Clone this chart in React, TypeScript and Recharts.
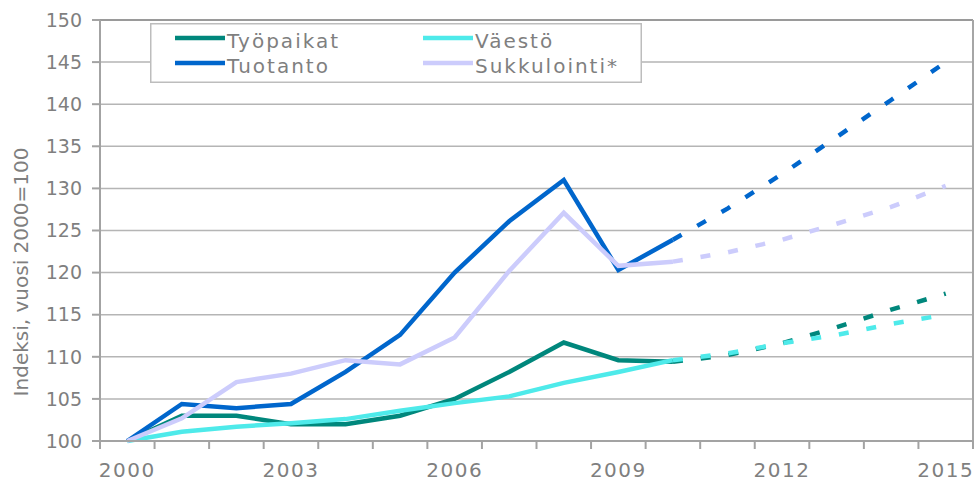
import React from "react";
import {
  CartesianGrid,
  Legend,
  Line,
  LineChart,
  ReferenceLine,
  XAxis,
  YAxis,
} from "recharts";

const years = [
  2000, 2001, 2002, 2003, 2004, 2005, 2006, 2007, 2008, 2009, 2010, 2011, 2012,
  2013, 2014, 2015,
];
const labelYears = [2000, 2003, 2006, 2009, 2012, 2015];
const yTicks = [100, 105, 110, 115, 120, 125, 130, 135, 140, 145, 150];

// toteutunut 2000–2010, ennuste (katkoviiva) 2010–2015
const tyopaikat = [100, 103, 103, 102, 102, 103, 105, 108.2, 111.7, 109.6, 109.4, null, null, null, null, null];
const tyopaikatEnnuste = [null, null, null, null, null, null, null, null, null, null, 109.4, 110.2, 111.6, 113.5, 115.6, 117.5];
const vaesto = [100, 101.1, 101.7, 102.1, 102.6, 103.6, 104.5, 105.3, 106.9, 108.2, 109.6, null, null, null, null, null];
const vaestoEnnuste = [null, null, null, null, null, null, null, null, null, null, 109.6, 110.4, 111.6, 112.6, 113.9, 115.0];
const tuotanto = [100, 104.4, 103.9, 104.4, 108.2, 112.6, 120.0, 126.1, 131.0, 120.3, 123.9, null, null, null, null, null];
const tuotantoEnnuste = [null, null, null, null, null, null, null, null, null, null, 123.9, 127.6, 131.7, 136.1, 140.5, 145.0];
const sukkulointi = [100, 102.7, 107.0, 108.0, 109.6, 109.1, 112.3, 120.2, 127.1, 120.8, 121.3, null, null, null, null, null];
const sukkulointiEnnuste = [null, null, null, null, null, null, null, null, null, null, 121.3, 122.4, 123.9, 125.8, 127.8, 130.3];

const rows = years.map((year, i) => ({
  year,
  tyopaikat: tyopaikat[i],
  tyopaikatE: tyopaikatEnnuste[i],
  vaesto: vaesto[i],
  vaestoE: vaestoEnnuste[i],
  tuotanto: tuotanto[i],
  tuotantoE: tuotantoEnnuste[i],
  sukkulointi: sukkulointi[i],
  sukkulointiE: sukkulointiEnnuste[i],
}));

const series = [
  { key: "tyopaikat", name: "Työpaikat", color: "#00877c" },
  { key: "vaesto", name: "Väestö", color: "#4eeaea" },
  { key: "tuotanto", name: "Tuotanto", color: "#0066cc" },
  { key: "sukkulointi", name: "Sukkulointi*", color: "#ccccfc" },
];

const FONT = "DejaVu Sans";
const TEXT = "#7f7f7f";
const AXIS = "#a3a3a3";
const LINE_W = 4.5;

const first = years[0] - 0.5;
const last = years[years.length - 1] + 0.5;
const xTicks = [...years.map((y) => y - 0.5), last, ...labelYears];

function XTick(props: any) {
  const { x, y, payload } = props;
  const v = payload.value;
  if (Number.isInteger(v)) {
    return (
      <text
        x={x}
        y={y}
        dy={36}
        textAnchor="middle"
        fontSize={20}
        letterSpacing={1.5}
        fontFamily={FONT}
        fill={TEXT}
      >
        {v}
      </text>
    );
  }
  return <line x1={x} x2={x} y1={y} y2={y + 8} stroke={AXIS} strokeWidth={2} />;
}

function YLabel() {
  return (
    <text
      x={28}
      y={272}
      transform="rotate(-90 28 272)"
      textAnchor="middle"
      fontSize={20}
      fontFamily={FONT}
      fill={TEXT}
    >
      Indeksi, vuosi 2000=100
    </text>
  );
}

function LegendBox(props: any) {
  const order = series.map((s) => s.name);
  const items = (props.payload || [])
    .filter((p: any) => p.type !== "none" && order.includes(p.value))
    .sort((a: any, b: any) => order.indexOf(a.value) - order.indexOf(b.value));
  return (
    <svg width={492} height={60} style={{ display: "block" }}>
      <rect x={0.75} y={0.75} width={490.5} height={58.5} fill="#fff" stroke="#bdbdbd" strokeWidth={1.5} />
      {items.map((p: any, i: number) => {
        const cx = 25 + (i % 2) * 248;
        const cy = 15 + Math.floor(i / 2) * 25;
        return (
          <g key={p.value}>
            <line x1={cx} x2={cx + 50} y1={cy} y2={cy} stroke={p.color} strokeWidth={LINE_W} />
            <text
              x={cx + 52}
              y={cy + 10}
              fontSize={20}
              letterSpacing={2}
              fontFamily={FONT}
              fill={TEXT}
            >
              {p.value}
            </text>
          </g>
        );
      })}
    </svg>
  );
}

export default function App() {
  return (
    <div
      style={{
        position: "absolute",
        left: 0,
        top: 0,
        width: 975,
        height: 481,
        background: "#fff",
        fontFamily: FONT,
      }}
    >
      <LineChart
        width={975}
        height={481}
        data={rows}
        margin={{ top: 20, right: 2, bottom: 0, left: 0 }}
      >
        <CartesianGrid vertical={false} stroke="#b5b5b5" strokeWidth={1.5} />
        <XAxis
          dataKey="year"
          type="number"
          domain={[first, last]}
          ticks={xTicks}
          interval={0}
          tickLine={false}
          tickSize={0}
          tickMargin={0}
          tick={<XTick />}
          axisLine={{ stroke: AXIS, strokeWidth: 2 }}
          height={40}
        />
        <YAxis
          domain={[yTicks[0], yTicks[yTicks.length - 1]]}
          ticks={yTicks}
          interval={0}
          width={100}
          tickSize={8}
          tickMargin={10}
          tickLine={{ stroke: AXIS, strokeWidth: 2 }}
          axisLine={{ stroke: AXIS, strokeWidth: 2 }}
          tick={{ fontSize: 19, fill: TEXT, fontFamily: FONT }}
          label={YLabel}
        />
        <ReferenceLine y={yTicks[yTicks.length - 1]} stroke="#9a9a9a" strokeWidth={2} />
        <ReferenceLine x={last} stroke="#a6a6a6" strokeWidth={2} />
        <Legend
          layout="horizontal"
          verticalAlign="middle"
          align="center"
          wrapperStyle={{ left: 150, top: 23, width: 492, height: 60 }}
          content={LegendBox}
        />
        {series.map((s) => (
          <Line
            key={s.key}
            type="linear"
            dataKey={s.key}
            name={s.name}
            stroke={s.color}
            strokeWidth={LINE_W}
            dot={false}
            activeDot={false}
            isAnimationActive={false}
          />
        ))}
        {series.map((s) => (
          <Line
            key={s.key + "E"}
            type="linear"
            dataKey={s.key + "E"}
            name={s.name + " ennuste"}
            stroke={s.color}
            strokeWidth={LINE_W}
            strokeDasharray="10 18"
            legendType="none"
            dot={false}
            activeDot={false}
            isAnimationActive={false}
          />
        ))}
      </LineChart>
    </div>
  );
}
